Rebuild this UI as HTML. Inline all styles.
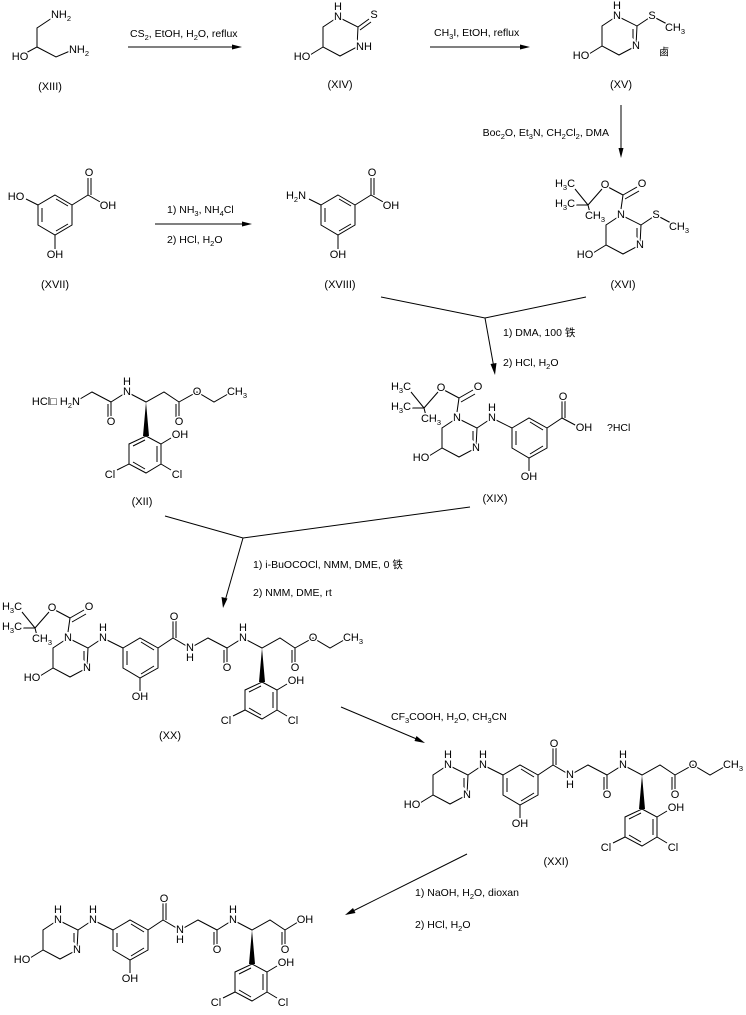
<!DOCTYPE html>
<html><head><meta charset="utf-8"><style>
html,body{margin:0;padding:0;background:#fff}
svg{display:block}
.t{font-family:"Liberation Sans","Noto Sans CJK SC",sans-serif;font-size:11px;text-anchor:middle;dominant-baseline:central;paint-order:stroke;stroke:#fff;stroke-width:3px;fill:#000}
.r{font-family:"Liberation Sans","Noto Sans CJK SC",sans-serif;font-size:10.5px;fill:#000;dominant-baseline:central}
.s{font-size:7.5px}
</style></head><body>
<svg width="746" height="1015" viewBox="0 0 746 1015" xmlns="http://www.w3.org/2000/svg">
<defs></defs>

<!-- ===== XIII ===== -->
<g stroke="#000" fill="none">
<polyline points="24,54 37,47 37,28 52,18"/>
<polyline points="37,47 56,57 70,51"/>
</g>
<text class="t" x="20" y="57">HO</text>
<text class="t" x="61" y="15">NH<tspan class="s" dy="3">2</tspan></text>
<text class="t" x="79" y="50">NH<tspan class="s" dy="3">2</tspan></text>
<text class="t" x="50" y="87" style="stroke:none">(XIII)</text>

<!-- arrow 1 -->
<line x1="128" y1="47" x2="236" y2="47" stroke="#000"/>
<polygon points="242,47 232,44.5 232,49.5" fill="#000"/>
<text class="r" x="130" y="34">CS<tspan class="s" dy="3">2</tspan><tspan dy="-3">, EtOH, H</tspan><tspan class="s" dy="3">2</tspan><tspan dy="-3">O, reflux</tspan></text>

<!-- ===== XIV ===== -->
<g transform="translate(270,-621)">
<g stroke="#000" fill="none">
<polyline points="68,638 88,648 87,668 70,677 53,668 53,648 68,638"/>
<line x1="53" y1="668" x2="40" y2="676"/>
<line x1="88" y1="648" x2="99" y2="640"/>
<line x1="90" y1="651" x2="101" y2="643"/>
</g>
<text class="t" x="68" y="638">N</text>
<text class="t" x="68" y="628">H</text>
<text class="t" x="94" y="668">NH</text>
<text class="t" x="32" y="678">HO</text>
<text class="t" x="104" y="636">S</text>
</g>
<text class="t" x="340" y="85" style="stroke:none">(XIV)</text>

<!-- arrow 2 -->
<line x1="430" y1="47" x2="524" y2="47" stroke="#000"/>
<polygon points="530,47 520,44.5 520,49.5" fill="#000"/>
<text class="r" x="434" y="33">CH<tspan class="s" dy="3">3</tspan><tspan dy="-3">I, EtOH, reflux</tspan></text>

<!-- ===== XV ===== -->
<g transform="translate(549,-622)">
<g stroke="#000" fill="none">
<polyline points="68,638 88,648 87,668 70,677 53,668 53,648 68,638"/>
<line x1="84" y1="651" x2="84" y2="665"/>
<line x1="53" y1="668" x2="40" y2="676"/>
<line x1="88" y1="648" x2="103" y2="638"/>
<line x1="103" y1="638" x2="118" y2="646"/>
</g>
<text class="t" x="68" y="638">N</text>
<text class="t" x="68" y="628">H</text>
<text class="t" x="87" y="668">N</text>
<text class="t" x="32" y="678">HO</text>
<text class="t" x="103" y="638">S</text>
<text class="t" x="126" y="650">CH<tspan class="s" dy="3">3</tspan></text>
</g>
<text class="t" x="664" y="53" style="font-size:10px">鹵</text>
<text class="t" x="621" y="85" style="stroke:none">(XV)</text>

<!-- arrow 3 -->
<line x1="621" y1="105" x2="621" y2="152" stroke="#000"/>
<polygon points="621,158 618.5,148 623.5,148" fill="#000"/>
<text class="r" x="609" y="133" text-anchor="end">Boc<tspan class="s" dy="3">2</tspan><tspan dy="-3">O, Et</tspan><tspan class="s" dy="3">3</tspan><tspan dy="-3">N, CH</tspan><tspan class="s" dy="3">2</tspan><tspan dy="-3">Cl</tspan><tspan class="s" dy="3">2</tspan><tspan dy="-3">, DMA</tspan></text>

<!-- ===== XVI ===== -->
<g transform="translate(553,-423)">
<g stroke="#000" fill="none">
<polyline points="68,638 88,648 87,668 70,677 53,668 53,648 68,638"/>
<line x1="84" y1="651" x2="84" y2="665"/>
<line x1="53" y1="668" x2="40" y2="676"/>
<line x1="88" y1="648" x2="103" y2="638"/>
<line x1="103" y1="638" x2="118" y2="646"/>
<line x1="35" y1="628" x2="22" y2="612"/>
<line x1="35" y1="628" x2="22" y2="628"/>
<line x1="35" y1="628" x2="37" y2="636"/>
<line x1="35" y1="628" x2="49" y2="612"/>
<line x1="55" y1="610" x2="70" y2="618"/>
<line x1="70" y1="618" x2="84" y2="610"/>
<line x1="72" y1="622" x2="86" y2="614"/>
<line x1="70" y1="618" x2="68" y2="632"/>
</g>
<text class="t" x="12" y="607">H<tspan class="s" dy="3">3</tspan><tspan dy="-3">C</tspan></text>
<text class="t" x="12" y="627">H<tspan class="s" dy="3">3</tspan><tspan dy="-3">C</tspan></text>
<text class="t" x="42" y="639">CH<tspan class="s" dy="3">3</tspan></text>
<text class="t" x="52" y="608">O</text>
<text class="t" x="89" y="607">O</text>
<text class="t" x="68" y="638">N</text>
<text class="t" x="87" y="668">N</text>
<text class="t" x="32" y="678">HO</text>
<text class="t" x="103" y="638">S</text>
<text class="t" x="126" y="650">CH<tspan class="s" dy="3">3</tspan></text>
</g>
<text class="t" x="623" y="285" style="stroke:none">(XVI)</text>

<!-- ===== XVII ===== -->
<g id="x17">
<g stroke="#000" fill="none">
<polygon points="55,195 72,205 72,225 55,235 38,225 38,205"/>
<line x1="56" y1="199" x2="68" y2="206"/>
<line x1="68" y1="224" x2="56" y2="231"/>
<line x1="42" y1="222" x2="42" y2="208"/>
<line x1="72" y1="205" x2="88" y2="195"/>
<line x1="88" y1="195" x2="88" y2="178"/>
<line x1="91" y1="195" x2="91" y2="178"/>
<line x1="88" y1="195" x2="102" y2="203"/>
<line x1="55" y1="235" x2="55" y2="249"/>
</g>
<text class="t" x="89" y="173">O</text>
<text class="t" x="108" y="206">OH</text>
<text class="t" x="55" y="255">OH</text>
</g>
<line x1="38" y1="205" x2="26" y2="199" stroke="#000"/>
<text class="t" x="16" y="197">HO</text>
<text class="t" x="55" y="285" style="stroke:none">(XVII)</text>

<!-- arrow 4 -->
<line x1="155" y1="224" x2="246" y2="224" stroke="#000"/>
<polygon points="252,224 242,221.5 242,226.5" fill="#000"/>
<text class="r" x="167" y="210">1) NH<tspan class="s" dy="3">3</tspan><tspan dy="-3">, NH</tspan><tspan class="s" dy="3">4</tspan><tspan dy="-3">Cl</tspan></text>
<text class="r" x="167" y="240">2) HCl, H<tspan class="s" dy="3">2</tspan><tspan dy="-3">O</tspan></text>

<!-- ===== XVIII ===== -->
<g transform="translate(283,0)">
<g stroke="#000" fill="none">
<polygon points="55,195 72,205 72,225 55,235 38,225 38,205"/>
<line x1="56" y1="199" x2="68" y2="206"/>
<line x1="68" y1="224" x2="56" y2="231"/>
<line x1="42" y1="222" x2="42" y2="208"/>
<line x1="72" y1="205" x2="88" y2="195"/>
<line x1="88" y1="195" x2="88" y2="178"/>
<line x1="91" y1="195" x2="91" y2="178"/>
<line x1="88" y1="195" x2="102" y2="203"/>
<line x1="55" y1="235" x2="55" y2="249"/>
<line x1="38" y1="205" x2="26" y2="199"/>
</g>
<text class="t" x="89" y="173">O</text>
<text class="t" x="108" y="206">OH</text>
<text class="t" x="55" y="255">OH</text>
<text class="t" x="13" y="196">H<tspan class="s" dy="3">2</tspan><tspan dy="-3">N</tspan></text>
</g>
<text class="t" x="340" y="285" style="stroke:none">(XVIII)</text>

<!-- convergent arrow XVIII + XVI -->
<g stroke="#000" fill="none">
<polyline points="381,297 485,318 586,297"/>
<line x1="485" y1="318" x2="494" y2="368"/>
</g>
<polygon points="495,375 490.5,364 496.5,363" fill="#000"/>
<text class="r" x="503" y="333">1) DMA, 100 铁</text>
<text class="r" x="503" y="363">2) HCl, H<tspan class="s" dy="3">2</tspan><tspan dy="-3">O</tspan></text>

<!-- ===== XIX ===== -->
<g transform="translate(389,-220)">
<g stroke="#000" fill="none">
<polyline points="68,638 88,648 87,668 70,677 53,668 53,648 68,638"/>
<line x1="84" y1="651" x2="84" y2="665"/>
<line x1="53" y1="668" x2="40" y2="676"/>
<line x1="35" y1="628" x2="22" y2="612"/>
<line x1="35" y1="628" x2="22" y2="628"/>
<line x1="35" y1="628" x2="37" y2="636"/>
<line x1="35" y1="628" x2="49" y2="612"/>
<line x1="55" y1="610" x2="70" y2="618"/>
<line x1="70" y1="618" x2="84" y2="610"/>
<line x1="72" y1="622" x2="86" y2="614"/>
<line x1="70" y1="618" x2="68" y2="632"/>
<line x1="88" y1="648" x2="103" y2="638"/>
<line x1="103" y1="638" x2="123" y2="648"/>
<polygon points="123,648 140,638 158,648 158,668 140,678 123,668"/>
<line x1="141" y1="642" x2="154" y2="650"/>
<line x1="154" y1="666" x2="141" y2="674"/>
<line x1="127" y1="665" x2="127" y2="651"/>
<line x1="140" y1="678" x2="140" y2="691"/>
<line x1="158" y1="648" x2="173" y2="638"/>
<line x1="173" y1="638" x2="173" y2="621"/>
<line x1="176" y1="638" x2="176" y2="621"/>
<line x1="173" y1="638" x2="188" y2="646"/>
</g>
<text class="t" x="12" y="607">H<tspan class="s" dy="3">3</tspan><tspan dy="-3">C</tspan></text>
<text class="t" x="12" y="627">H<tspan class="s" dy="3">3</tspan><tspan dy="-3">C</tspan></text>
<text class="t" x="42" y="639">CH<tspan class="s" dy="3">3</tspan></text>
<text class="t" x="52" y="608">O</text>
<text class="t" x="89" y="607">O</text>
<text class="t" x="68" y="638">N</text>
<text class="t" x="87" y="668">N</text>
<text class="t" x="32" y="678">HO</text>
<text class="t" x="103" y="638">N</text>
<text class="t" x="103" y="628">H</text>
<text class="t" x="140" y="697">OH</text>
<text class="t" x="174" y="617">O</text>
<text class="t" x="195" y="648">OH</text>
</g>
<text class="r" x="607" y="428">?HCl</text>
<text class="t" x="495" y="499" style="stroke:none">(XIX)</text>

<!-- ===== XII ===== -->
<g transform="translate(-116,-246)">
<g stroke="#000" fill="none">
<polyline points="196,645 208,638 227,648"/>
<line x1="227" y1="648" x2="227" y2="663"/>
<line x1="224" y1="650" x2="224" y2="663"/>
<polyline points="227,648 243,638 262,648 280,638 295,648"/>
<line x1="295" y1="648" x2="295" y2="663"/>
<line x1="292" y1="650" x2="292" y2="663"/>
<polyline points="295,648 313,638 330,648 344,640"/>
<polygon points="262,682 277,690 277,710 262,719 245,710 245,690"/>
<line x1="273" y1="692" x2="273" y2="708"/>
<line x1="261" y1="715" x2="249" y2="708"/>
<line x1="249" y1="692" x2="261" y2="686"/>
<line x1="277" y1="690" x2="287" y2="684"/>
<line x1="277" y1="710" x2="287" y2="716"/>
<line x1="245" y1="710" x2="233" y2="716"/>
</g>
<polygon points="262,648 259,682 265,682" fill="#000"/>
<text class="t" x="196" y="648" style="text-anchor:end">HCl□ H<tspan class="s" dy="3">2</tspan><tspan dy="-3">N</tspan></text>
<text class="t" x="227" y="668">O</text>
<text class="t" x="243" y="638">N</text>
<text class="t" x="243" y="628">H</text>
<text class="t" x="295" y="668">O</text>
<text class="t" x="313" y="638">O</text>
<text class="t" x="353" y="638">CH<tspan class="s" dy="3">3</tspan></text>
<text class="t" x="296" y="681">OH</text>
<text class="t" x="293" y="721">Cl</text>
<text class="t" x="226" y="721">Cl</text>
</g>
<text class="t" x="142" y="502" style="stroke:none">(XII)</text>

<!-- convergent arrow XII + XIX -->
<g stroke="#000" fill="none">
<polyline points="165,516 243,538 470,507"/>
<line x1="243" y1="538" x2="225" y2="601"/>
</g>
<polygon points="223,608 221.5,597 227.5,598.5" fill="#000"/>
<text class="r" x="253" y="565">1) i-BuOCOCl, NMM, DME, 0 铁</text>
<text class="r" x="253" y="593">2) NMM, DME, rt</text>

<!-- ===== XX ===== -->
<g>
<g stroke="#000" fill="none">
<polyline points="68,638 88,648 87,668 70,677 53,668 53,648 68,638"/>
<line x1="84" y1="651" x2="84" y2="665"/>
<line x1="53" y1="668" x2="40" y2="676"/>
<line x1="35" y1="628" x2="22" y2="612"/>
<line x1="35" y1="628" x2="22" y2="628"/>
<line x1="35" y1="628" x2="37" y2="636"/>
<line x1="35" y1="628" x2="49" y2="612"/>
<line x1="55" y1="610" x2="70" y2="618"/>
<line x1="70" y1="618" x2="84" y2="610"/>
<line x1="72" y1="622" x2="86" y2="614"/>
<line x1="70" y1="618" x2="68" y2="632"/>
<line x1="88" y1="648" x2="103" y2="638"/>
<line x1="103" y1="638" x2="123" y2="648"/>
<polygon points="123,648 140,638 158,648 158,668 140,678 123,668"/>
<line x1="141" y1="642" x2="154" y2="650"/>
<line x1="154" y1="666" x2="141" y2="674"/>
<line x1="127" y1="665" x2="127" y2="651"/>
<line x1="140" y1="678" x2="140" y2="691"/>
<line x1="158" y1="648" x2="173" y2="638"/>
<line x1="173" y1="638" x2="173" y2="621"/>
<line x1="176" y1="638" x2="176" y2="621"/>
<polyline points="173,638 190,648 208,638 227,648"/>
<line x1="227" y1="648" x2="227" y2="663"/>
<line x1="224" y1="650" x2="224" y2="663"/>
<polyline points="227,648 243,638 262,648 280,638 295,648"/>
<line x1="295" y1="648" x2="295" y2="663"/>
<line x1="292" y1="650" x2="292" y2="663"/>
<polyline points="295,648 313,638 330,648 344,640"/>
<polygon points="262,682 277,690 277,710 262,719 245,710 245,690"/>
<line x1="273" y1="692" x2="273" y2="708"/>
<line x1="261" y1="715" x2="249" y2="708"/>
<line x1="249" y1="692" x2="261" y2="686"/>
<line x1="277" y1="690" x2="287" y2="684"/>
<line x1="277" y1="710" x2="287" y2="716"/>
<line x1="245" y1="710" x2="233" y2="716"/>
</g>
<polygon points="262,648 259,682 265,682" fill="#000"/>
<text class="t" x="12" y="607">H<tspan class="s" dy="3">3</tspan><tspan dy="-3">C</tspan></text>
<text class="t" x="12" y="627">H<tspan class="s" dy="3">3</tspan><tspan dy="-3">C</tspan></text>
<text class="t" x="42" y="639">CH<tspan class="s" dy="3">3</tspan></text>
<text class="t" x="52" y="608">O</text>
<text class="t" x="89" y="607">O</text>
<text class="t" x="68" y="638">N</text>
<text class="t" x="87" y="668">N</text>
<text class="t" x="32" y="678">HO</text>
<text class="t" x="103" y="638">N</text>
<text class="t" x="103" y="628">H</text>
<text class="t" x="140" y="697">OH</text>
<text class="t" x="174" y="617">O</text>
<text class="t" x="190" y="648">N</text>
<text class="t" x="190" y="658">H</text>
<text class="t" x="227" y="668">O</text>
<text class="t" x="243" y="638">N</text>
<text class="t" x="243" y="628">H</text>
<text class="t" x="295" y="668">O</text>
<text class="t" x="313" y="638">O</text>
<text class="t" x="353" y="638">CH<tspan class="s" dy="3">3</tspan></text>
<text class="t" x="296" y="681">OH</text>
<text class="t" x="293" y="721">Cl</text>
<text class="t" x="226" y="721">Cl</text>
</g>
<text class="t" x="170" y="736" style="stroke:none">(XX)</text>

<!-- arrow XX -> XXI -->
<line x1="341" y1="707" x2="419" y2="740" stroke="#000"/>
<polygon points="425,743 414.5,741 416.5,736" fill="#000"/>
<text class="r" x="391" y="717">CF<tspan class="s" dy="3">3</tspan><tspan dy="-3">COOH, H</tspan><tspan class="s" dy="3">2</tspan><tspan dy="-3">O, CH</tspan><tspan class="s" dy="3">3</tspan><tspan dy="-3">CN</tspan></text>

<!-- ===== XXI ===== -->
<g transform="translate(380,127)">
<g stroke="#000" fill="none">
<polyline points="68,638 88,648 87,668 70,677 53,668 53,648 68,638"/>
<line x1="84" y1="651" x2="84" y2="665"/>
<line x1="53" y1="668" x2="40" y2="676"/>
<line x1="88" y1="648" x2="103" y2="638"/>
<line x1="103" y1="638" x2="123" y2="648"/>
<polygon points="123,648 140,638 158,648 158,668 140,678 123,668"/>
<line x1="141" y1="642" x2="154" y2="650"/>
<line x1="154" y1="666" x2="141" y2="674"/>
<line x1="127" y1="665" x2="127" y2="651"/>
<line x1="140" y1="678" x2="140" y2="691"/>
<line x1="158" y1="648" x2="173" y2="638"/>
<line x1="173" y1="638" x2="173" y2="621"/>
<line x1="176" y1="638" x2="176" y2="621"/>
<polyline points="173,638 190,648 208,638 227,648"/>
<line x1="227" y1="648" x2="227" y2="663"/>
<line x1="224" y1="650" x2="224" y2="663"/>
<polyline points="227,648 243,638 262,648 280,638 295,648"/>
<line x1="295" y1="648" x2="295" y2="663"/>
<line x1="292" y1="650" x2="292" y2="663"/>
<polyline points="295,648 313,638 330,648 344,640"/>
<polygon points="262,682 277,690 277,710 262,719 245,710 245,690"/>
<line x1="273" y1="692" x2="273" y2="708"/>
<line x1="261" y1="715" x2="249" y2="708"/>
<line x1="249" y1="692" x2="261" y2="686"/>
<line x1="277" y1="690" x2="287" y2="684"/>
<line x1="277" y1="710" x2="287" y2="716"/>
<line x1="245" y1="710" x2="233" y2="716"/>
</g>
<polygon points="262,648 259,682 265,682" fill="#000"/>
<text class="t" x="68" y="638">N</text>
<text class="t" x="68" y="628">H</text>
<text class="t" x="87" y="668">N</text>
<text class="t" x="32" y="678">HO</text>
<text class="t" x="103" y="638">N</text>
<text class="t" x="103" y="628">H</text>
<text class="t" x="140" y="697">OH</text>
<text class="t" x="174" y="617">O</text>
<text class="t" x="190" y="648">N</text>
<text class="t" x="190" y="658">H</text>
<text class="t" x="227" y="668">O</text>
<text class="t" x="243" y="638">N</text>
<text class="t" x="243" y="628">H</text>
<text class="t" x="295" y="668">O</text>
<text class="t" x="313" y="638">O</text>
<text class="t" x="353" y="638">CH<tspan class="s" dy="3">3</tspan></text>
<text class="t" x="296" y="681">OH</text>
<text class="t" x="293" y="721">Cl</text>
<text class="t" x="226" y="721">Cl</text>
</g>
<text class="t" x="556" y="862" style="stroke:none">(XXI)</text>

<!-- arrow XXI -> final -->
<line x1="467" y1="854" x2="351" y2="912" stroke="#000"/>
<polygon points="345,915 353,908 355.5,913" fill="#000"/>
<text class="r" x="415" y="893">1) NaOH, H<tspan class="s" dy="3">2</tspan><tspan dy="-3">O, dioxan</tspan></text>
<text class="r" x="415" y="925">2) HCl, H<tspan class="s" dy="3">2</tspan><tspan dy="-3">O</tspan></text>

<!-- ===== Final ===== -->
<g transform="translate(-10,282)">
<g stroke="#000" fill="none">
<polyline points="68,638 88,648 87,668 70,677 53,668 53,648 68,638"/>
<line x1="84" y1="651" x2="84" y2="665"/>
<line x1="53" y1="668" x2="40" y2="676"/>
<line x1="88" y1="648" x2="103" y2="638"/>
<line x1="103" y1="638" x2="123" y2="648"/>
<polygon points="123,648 140,638 158,648 158,668 140,678 123,668"/>
<line x1="141" y1="642" x2="154" y2="650"/>
<line x1="154" y1="666" x2="141" y2="674"/>
<line x1="127" y1="665" x2="127" y2="651"/>
<line x1="140" y1="678" x2="140" y2="691"/>
<line x1="158" y1="648" x2="173" y2="638"/>
<line x1="173" y1="638" x2="173" y2="621"/>
<line x1="176" y1="638" x2="176" y2="621"/>
<polyline points="173,638 190,648 208,638 227,648"/>
<line x1="227" y1="648" x2="227" y2="663"/>
<line x1="224" y1="650" x2="224" y2="663"/>
<polyline points="227,648 243,638 262,648 280,638 295,648"/>
<line x1="295" y1="648" x2="295" y2="663"/>
<line x1="292" y1="650" x2="292" y2="663"/>
<line x1="295" y1="648" x2="308" y2="640"/>
<polygon points="262,682 277,690 277,710 262,719 245,710 245,690"/>
<line x1="273" y1="692" x2="273" y2="708"/>
<line x1="261" y1="715" x2="249" y2="708"/>
<line x1="249" y1="692" x2="261" y2="686"/>
<line x1="277" y1="690" x2="287" y2="684"/>
<line x1="277" y1="710" x2="287" y2="716"/>
<line x1="245" y1="710" x2="233" y2="716"/>
</g>
<polygon points="262,648 259,682 265,682" fill="#000"/>
<text class="t" x="68" y="638">N</text>
<text class="t" x="68" y="628">H</text>
<text class="t" x="87" y="668">N</text>
<text class="t" x="32" y="678">HO</text>
<text class="t" x="103" y="638">N</text>
<text class="t" x="103" y="628">H</text>
<text class="t" x="140" y="697">OH</text>
<text class="t" x="174" y="617">O</text>
<text class="t" x="190" y="648">N</text>
<text class="t" x="190" y="658">H</text>
<text class="t" x="227" y="668">O</text>
<text class="t" x="243" y="638">N</text>
<text class="t" x="243" y="628">H</text>
<text class="t" x="295" y="668">O</text>
<text class="t" x="315" y="638">OH</text>
<text class="t" x="296" y="681">OH</text>
<text class="t" x="293" y="721">Cl</text>
<text class="t" x="226" y="721">Cl</text>
</g>
</svg>
</body></html>
